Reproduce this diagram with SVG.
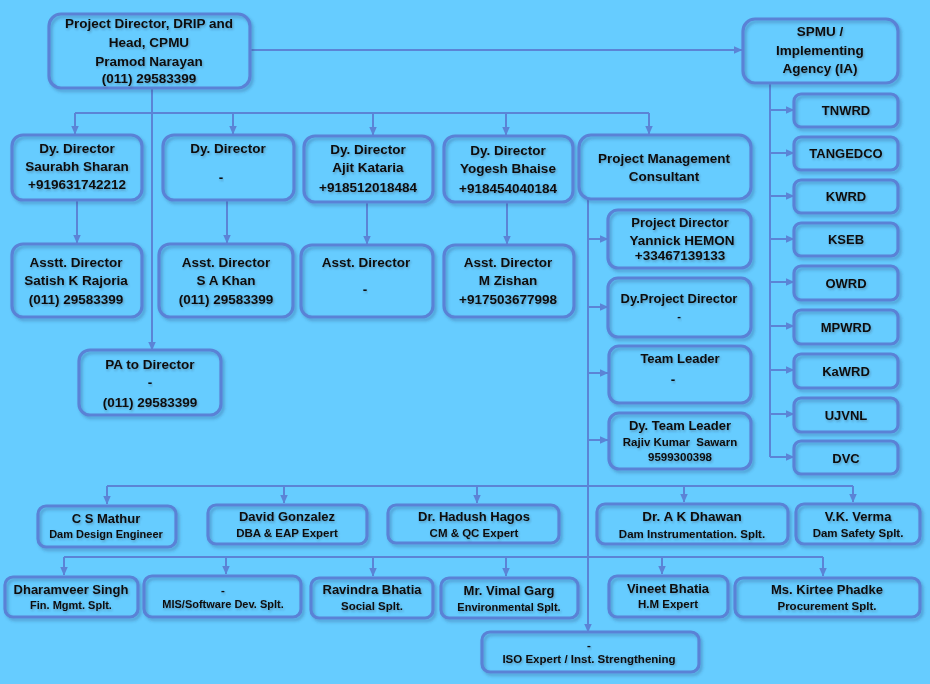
<svg xmlns="http://www.w3.org/2000/svg" width="930" height="684" viewBox="0 0 930 684">
<defs>
<marker id="ah" markerWidth="9" markerHeight="8" refX="8.5" refY="4" orient="auto" markerUnits="userSpaceOnUse"><path d="M0,0 L9,4 L0,8 Z" fill="#5B84D6"/></marker>
<filter id="bs" x="-10%" y="-10%" width="125%" height="135%"><feDropShadow dx="2" dy="2.5" stdDeviation="1.6" flood-color="#2a4a80" flood-opacity="0.35"/></filter>
<filter id="ts" x="-5%" y="-20%" width="115%" height="160%"><feDropShadow dx="1" dy="1.5" stdDeviation="1" flood-color="#334" flood-opacity="0.35"/></filter>
</defs>
<style>
.b{fill:none;stroke:#5A82D6;stroke-width:3.2;filter:url(#bs)}
.c{fill:none;stroke:#5B84D6;stroke-width:2}
.a{marker-end:url(#ah)}
text{font-family:"Liberation Sans",Arial,sans-serif;font-weight:bold;fill:#0d0d0d;text-anchor:middle;filter:url(#ts)}
.t{font-size:13.5px}
.m{font-size:13px}
.s{font-size:11.5px}
.xs{font-size:11px}
</style>
<rect width="930" height="684" fill="#66CCFF"/>
<g id="connectors">
<path class="c a" d="M250,50 H742"/>
<path class="c a" d="M152,88 V350"/>
<path class="c" d="M75,113 H649"/>
<path class="c a" d="M75,113 V134"/>
<path class="c a" d="M233,113 V134"/>
<path class="c a" d="M373,113 V135"/>
<path class="c a" d="M506,113 V135"/>
<path class="c a" d="M649,113 V134"/>
<path class="c a" d="M77,200 V243"/>
<path class="c a" d="M227,200 V243"/>
<path class="c a" d="M367,202 V244"/>
<path class="c a" d="M507,202 V244"/>
<path class="c a" d="M588,199 V632"/>
<path class="c a" d="M588,239 H608"/>
<path class="c a" d="M588,307 H608"/>
<path class="c a" d="M588,373 H608"/>
<path class="c a" d="M588,440 H608"/>
<path class="c" d="M770,83 V457"/>
<path class="c a" d="M770,110 H794"/>
<path class="c a" d="M770,153 H794"/>
<path class="c a" d="M770,196 H794"/>
<path class="c a" d="M770,239 H794"/>
<path class="c a" d="M770,282 H794"/>
<path class="c a" d="M770,326 H794"/>
<path class="c a" d="M770,370 H794"/>
<path class="c a" d="M770,414 H794"/>
<path class="c a" d="M770,457 H794"/>
<path class="c" d="M107,486 H853"/>
<path class="c a" d="M107,486 V504"/>
<path class="c a" d="M284,486 V503"/>
<path class="c a" d="M477,486 V503"/>
<path class="c a" d="M684,486 V502"/>
<path class="c a" d="M853,486 V502"/>
<path class="c" d="M64,557 H823"/>
<path class="c a" d="M64,557 V575"/>
<path class="c a" d="M226,557 V574"/>
<path class="c a" d="M373,557 V576"/>
<path class="c a" d="M506,557 V576"/>
<path class="c a" d="M662,557 V574"/>
<path class="c a" d="M823,557 V576"/>
</g>
<g id="pd"><rect class="b" x="49" y="14" width="201" height="74" rx="12"/>
<text class="t" x="149" y="28">Project Director, DRIP and</text>
<text class="t" x="149" y="47">Head, CPMU</text>
<text class="t" x="149" y="66">Pramod Narayan</text>
<text class="t" x="149" y="83">(011) 29583399</text></g>
<g id="spmu"><rect class="b" x="743" y="19" width="155" height="64" rx="12"/>
<text class="t" x="820" y="36">SPMU /</text>
<text class="t" x="820" y="55">Implementing</text>
<text class="t" x="820" y="73">Agency (IA)</text></g>
<g id="dd1"><rect class="b" x="12" y="135" width="130" height="65" rx="11"/>
<text class="t" x="77" y="153">Dy. Director</text>
<text class="t" x="77" y="171">Saurabh Sharan</text>
<text class="t" x="77" y="189">+919631742212</text></g>
<g id="dd2"><rect class="b" x="163" y="135" width="131" height="65" rx="11"/>
<text class="t" x="228" y="153">Dy. Director</text>
<text class="t" x="221" y="182">-</text></g>
<g id="dd3"><rect class="b" x="304" y="136" width="129" height="66" rx="11"/>
<text class="t" x="368" y="154">Dy. Director</text>
<text class="t" x="368" y="172">Ajit Kataria</text>
<text class="t" x="368" y="192">+918512018484</text></g>
<g id="dd4"><rect class="b" x="444" y="136" width="129" height="66" rx="11"/>
<text class="t" x="508" y="155">Dy. Director</text>
<text class="t" x="508" y="173">Yogesh Bhaise</text>
<text class="t" x="508" y="193">+918454040184</text></g>
<g id="pmc"><rect class="b" x="579" y="135" width="172" height="64" rx="12"/>
<text class="t" x="664" y="163">Project Management</text>
<text class="t" x="664" y="181">Consultant</text></g>
<g id="ad1"><rect class="b" x="12" y="244" width="130" height="73" rx="11"/>
<text class="t" x="76" y="267">Asstt. Director</text>
<text class="t" x="76" y="285">Satish K Rajoria</text>
<text class="t" x="76" y="304">(011) 29583399</text></g>
<g id="ad2"><rect class="b" x="159" y="244" width="134" height="73" rx="11"/>
<text class="t" x="226" y="267">Asst. Director</text>
<text class="t" x="226" y="285">S A Khan</text>
<text class="t" x="226" y="304">(011) 29583399</text></g>
<g id="ad3"><rect class="b" x="301" y="245" width="132" height="72" rx="11"/>
<text class="t" x="366" y="267">Asst. Director</text>
<text class="t" x="365" y="294">-</text></g>
<g id="ad4"><rect class="b" x="444" y="245" width="130" height="72" rx="11"/>
<text class="t" x="508" y="267">Asst. Director</text>
<text class="t" x="508" y="285">M Zishan</text>
<text class="t" x="508" y="304">+917503677998</text></g>
<g id="pa"><rect class="b" x="79" y="350" width="142" height="65" rx="11"/>
<text class="t" x="150" y="369">PA to Director</text>
<text class="t" x="150" y="387">-</text>
<text class="t" x="150" y="407">(011) 29583399</text></g>
<g id="pmc-pd"><rect class="b" x="608" y="210" width="143" height="58" rx="10"/>
<text class="m" x="680" y="227">Project Director</text>
<text class="t" x="682" y="245">Yannick HEMON</text>
<text class="t" x="680" y="260">+33467139133</text></g>
<g id="pmc-dpd"><rect class="b" x="608" y="278" width="143" height="59" rx="10"/>
<text class="m" x="679" y="303">Dy.Project Director</text>
<text class="xs" x="679" y="320">-</text></g>
<g id="pmc-tl"><rect class="b" x="609" y="346" width="142" height="57" rx="10"/>
<text class="m" x="680" y="363">Team Leader</text>
<text class="t" x="673" y="384">-</text></g>
<g id="pmc-dtl"><rect class="b" x="609" y="413" width="142" height="56" rx="10"/>
<text class="m" x="680" y="430">Dy. Team Leader</text>
<text class="s" x="680" y="446" xml:space="preserve">Rajiv Kumar  Sawarn</text>
<text class="s" x="680" y="461">9599300398</text></g>
<g id="tnwrd"><rect class="b" x="794" y="94" width="104" height="33" rx="7"/><text class="m" x="846" y="115">TNWRD</text></g>
<g id="tangedco"><rect class="b" x="794" y="137" width="104" height="33" rx="7"/><text class="m" x="846" y="158">TANGEDCO</text></g>
<g id="kwrd"><rect class="b" x="794" y="180" width="104" height="33" rx="7"/><text class="m" x="846" y="201">KWRD</text></g>
<g id="kseb"><rect class="b" x="794" y="223" width="104" height="33" rx="7"/><text class="m" x="846" y="244">KSEB</text></g>
<g id="owrd"><rect class="b" x="794" y="266" width="104" height="34" rx="7"/><text class="m" x="846" y="288">OWRD</text></g>
<g id="mpwrd"><rect class="b" x="794" y="310" width="104" height="34" rx="7"/><text class="m" x="846" y="332">MPWRD</text></g>
<g id="kawrd"><rect class="b" x="794" y="354" width="104" height="34" rx="7"/><text class="m" x="846" y="376">KaWRD</text></g>
<g id="ujvnl"><rect class="b" x="794" y="398" width="104" height="34" rx="7"/><text class="m" x="846" y="420">UJVNL</text></g>
<g id="dvc"><rect class="b" x="794" y="441" width="104" height="33" rx="7"/><text class="m" x="846" y="463">DVC</text></g>
<g id="mathur"><rect class="b" x="38" y="506" width="138" height="41" rx="8"/>
<text class="m" x="106" y="523">C S Mathur</text>
<text class="xs" x="106" y="538">Dam Design Engineer</text></g>
<g id="gonzalez"><rect class="b" x="208" y="505" width="159" height="39" rx="8"/>
<text class="m" x="287" y="521">David Gonzalez</text>
<text class="s" x="287" y="537">DBA &amp; EAP Expert</text></g>
<g id="hagos"><rect class="b" x="388" y="505" width="171" height="38" rx="8"/>
<text class="m" x="474" y="521">Dr. Hadush Hagos</text>
<text class="s" x="474" y="537">CM &amp; QC Expert</text></g>
<g id="dhawan"><rect class="b" x="597" y="504" width="191" height="40" rx="8"/>
<text class="t" x="692" y="521">Dr. A K Dhawan</text>
<text class="s" x="692" y="538">Dam Instrumentation. Splt.</text></g>
<g id="verma"><rect class="b" x="796" y="504" width="124" height="40" rx="8"/>
<text class="m" x="858" y="521">V.K. Verma</text>
<text class="s" x="858" y="537">Dam Safety Splt.</text></g>
<g id="singh"><rect class="b" x="5" y="577" width="133" height="40" rx="8"/>
<text class="m" x="71" y="594">Dharamveer Singh</text>
<text class="xs" x="71" y="609">Fin. Mgmt. Splt.</text></g>
<g id="mis"><rect class="b" x="144" y="576" width="157" height="41" rx="8"/>
<text class="s" x="223" y="594">-</text>
<text class="xs" x="223" y="608">MIS/Software Dev. Splt.</text></g>
<g id="ravindra"><rect class="b" x="311" y="578" width="122" height="40" rx="8"/>
<text class="m" x="372" y="594">Ravindra Bhatia</text>
<text class="s" x="372" y="610">Social Splt.</text></g>
<g id="garg"><rect class="b" x="441" y="578" width="137" height="40" rx="8"/>
<text class="m" x="509" y="595">Mr. Vimal Garg</text>
<text class="xs" x="509" y="611">Environmental Splt.</text></g>
<g id="vineet"><rect class="b" x="609" y="576" width="119" height="41" rx="8"/>
<text class="m" x="668" y="593">Vineet Bhatia</text>
<text class="s" x="668" y="608">H.M Expert</text></g>
<g id="phadke"><rect class="b" x="735" y="578" width="185" height="39" rx="8"/>
<text class="m" x="827" y="594">Ms. Kirtee Phadke</text>
<text class="s" x="827" y="610">Procurement Splt.</text></g>
<g id="iso"><rect class="b" x="482" y="632" width="217" height="40" rx="8"/>
<text class="s" x="589" y="649">-</text>
<text class="s" x="589" y="663">ISO Expert / Inst. Strengthening</text></g>
</svg>
